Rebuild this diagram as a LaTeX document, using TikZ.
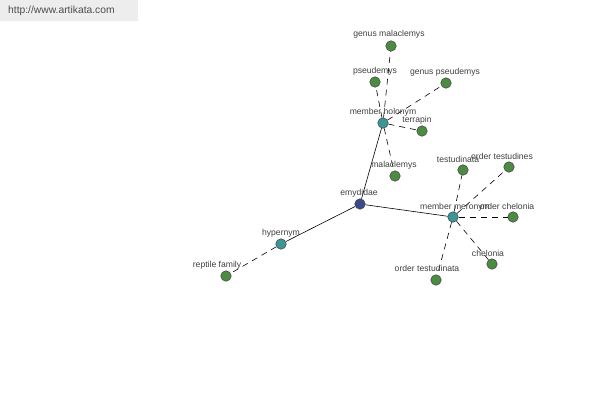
\documentclass[tikz,border=0pt]{standalone}
\usepackage{fontspec}
\setmainfont{Liberation Sans}
\definecolor{leafc}{RGB}{76,140,66}
\definecolor{relc}{RGB}{60,150,150}
\definecolor{hubc}{RGB}{60,72,140}
\begin{document}
\begin{tikzpicture}[x=1pt,y=-1pt,
  dot/.style={circle,draw=black!75,line width=0.5pt,minimum size=10.5pt,inner sep=0pt},
  leaf/.style={dot,fill=leafc},
  rel/.style={dot,fill=relc},
  hub/.style={dot,fill=hubc},
  lbl/.style={font=\fontsize{8.6}{9}\selectfont,text=black!75,inner sep=0pt},
  solidedge/.style={draw=black,line width=0.6pt},
  dashedge/.style={draw=black,line width=0.6pt,dash pattern=on 6pt off 5pt}]
\useasboundingbox (0,0) rectangle (600,400);
\fill[white] (0,0) rectangle (600,400);
\fill[black!7] (0,0) rectangle (138,21);
\node[font=\fontsize{10.3}{11}\selectfont,text=black!70,anchor=west,inner sep=0pt] (wm) at (8,11) {http://www.artikata.com};
% nodes
\node[hub]  (emy) at (360,204) {};
\node[rel]  (hyp) at (281,244) {};
\node[leaf] (rep) at (226,276) {};
\node[rel]  (hol) at (383,123) {};
\node[leaf] (gmal) at (391,46) {};
\node[leaf] (pse) at (375,82) {};
\node[leaf] (gpse) at (446,83) {};
\node[leaf] (ter) at (422,131) {};
\node[leaf] (mal) at (395,176) {};
\node[rel]  (mer) at (453,217) {};
\node[leaf] (tes) at (463,170) {};
\node[leaf] (otes) at (509,167) {};
\node[leaf] (ochel) at (513,217) {};
\node[leaf] (chel) at (492,264) {};
\node[leaf] (otesta) at (436,280) {};
% edges
\path[solidedge] (emy) -- (hol);
\path[solidedge] (emy) -- (mer);
\path[solidedge] (emy) -- (hyp);
\path[dashedge] (hyp) -- (rep);
\path[dashedge] (hol) -- (gmal);
\path[dashedge] (hol) -- (pse);
\path[dashedge] (hol) -- (gpse);
\path[dashedge] (hol) -- (ter);
\path[dashedge] (hol) -- (mal);
\path[dashedge] (mer) -- (tes);
\path[dashedge] (mer) -- (otes);
\path[dashedge] (mer) -- (ochel);
\path[dashedge] (mer) -- (chel);
\path[dashedge] (mer) -- (otesta);
% labels
\node[lbl] (l1) at (389,34) {genus malaclemys};
\node[lbl] (l2) at (375,71) {pseudemys};
\node[lbl] (l3) at (445,72) {genus pseudemys};
\node[lbl] (l4) at (383,112) {member holonym};
\node[lbl] (l5) at (417,120) {terrapin};
\node[lbl] (l6) at (394,165) {malaclemys};
\node[lbl] (l7) at (359,193) {emydidae};
\node[lbl] (l8) at (281,233) {hypernym};
\node[lbl] (l9) at (217,265) {reptile family};
\node[lbl] (l10) at (458,159) {testudinata};
\node[lbl] (l11) at (502,156) {order testudines};
\node[lbl] (l12) at (455,207) {member meronym};
\node[lbl] (l13) at (507,206) {order chelonia};
\node[lbl] (l14) at (488,253) {chelonia};
\node[lbl] (l15) at (427,268) {order testudinata};
\end{tikzpicture}
\end{document}
